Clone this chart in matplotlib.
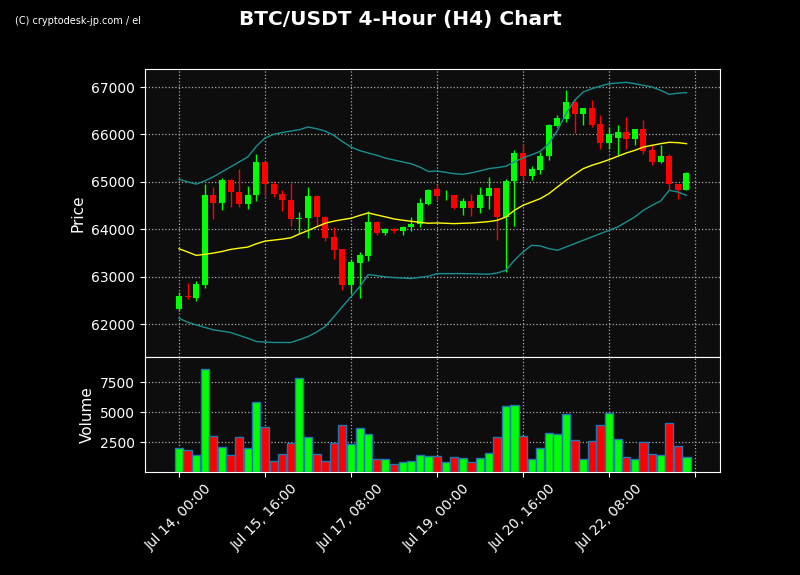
import matplotlib
matplotlib.use("Agg")
import matplotlib.pyplot as plt
import numpy as np

tick_labels = ["Jul 14, 00:00", "Jul 15, 16:00", "Jul 17, 08:00", "Jul 19, 00:00",
               "Jul 20, 16:00", "Jul 22, 08:00", ""]
opens = [62323, 62595, 62553, 62819, 64727, 64546, 65042, 64790, 64532, 64713,
         65419, 64958, 64748, 64623, 64210, 64231, 64706, 64266, 63826, 63574,
         62819, 63287, 63434, 64161, 63917, 64014, 63972, 64042, 64105, 64532,
         64842, 64715, 64715, 64448, 64589, 64448, 64701, 64863, 64258, 65010,
         65601, 65123, 65250, 65538, 66178, 66318, 66677, 66431, 66550, 66213,
         65819, 65931, 66044, 65896, 66107, 65664, 65418, 65552, 64961, 64821]
highs = [62665, 62875, 62917, 64951, 64881, 65077, 65063, 65266, 64902, 65580,
         65440, 65021, 64825, 64972, 64364, 64888, 64720, 64280, 64042, 63590,
         63364, 63511, 64378, 64182, 64035, 64020, 64077, 64252, 64657, 64840,
         64961, 64821, 64720, 64666, 64750, 64891, 65109, 64870, 65067, 65664,
         65791, 65327, 65636, 66227, 66417, 66944, 66754, 66564, 66733, 66417,
         66156, 66206, 66367, 66121, 66311, 65770, 65784, 65580, 64961, 65207]
lows = [62267, 62519, 62490, 62770, 64217, 64406, 64476, 64462, 64427, 64602,
        64706, 64678, 64378, 64070, 63917, 63819, 64077, 63742, 63378, 62707,
        62644, 62540, 63322, 63868, 63875, 63924, 63882, 63972, 64056, 64510,
        64624, 64610, 64434, 64293, 64272, 64350, 64420, 63766, 63098, 64069,
        65032, 65046, 65165, 65467, 66156, 66255, 66037, 66206, 66156, 65699,
        65699, 65559, 65699, 65784, 65580, 65348, 65397, 64835, 64645, 64821]
closes = [62588, 62560, 62840, 64727, 64546, 65042, 64776, 64532, 64727, 65419,
          64944, 64734, 64609, 64210, 64245, 64706, 64252, 63819, 63560, 62819,
          63301, 63448, 64161, 63917, 64014, 63972, 64056, 64119, 64546, 64832,
          64701, 64729, 64448, 64589, 64448, 64715, 64863, 64258, 65010, 65601,
          65123, 65264, 65552, 66192, 66339, 66677, 66431, 66550, 66192, 65819,
          66002, 66044, 65896, 66107, 65650, 65418, 65552, 64947, 64821, 65193]
volumes = [2005, 1840, 1430, 8600, 2995, 2090, 1430, 2910, 2005, 5880,
           3740, 880, 1510, 2420, 7860, 2910, 1510, 960, 2420, 3900,
           2335, 3650, 3160, 1100, 1100, 690, 850, 930, 1430, 1320,
           1350, 850, 1260, 1180, 850, 1180, 1590, 2910, 5550, 5630,
           2995, 1100, 2005, 3240, 3160, 4810, 2660, 1100, 2580, 3900,
           4890, 2750, 1260, 1100, 2500, 1510, 1430, 4070, 2170, 1260]
sma20 = [63588, 63520, 63448, 63470, 63497, 63530, 63574, 63600, 63623, 63693,
         63749, 63770, 63791, 63819, 63900, 63972, 64050, 64126, 64170, 64203,
         64231, 64290, 64343, 64301, 64260, 64217, 64190, 64168, 64145, 64126,
         64132, 64125, 64118, 64125, 64132, 64145, 64160, 64188, 64258, 64399,
         64504, 64575, 64645, 64750, 64891, 65032, 65158, 65278, 65348, 65404,
         65467, 65538, 65608, 65664, 65734, 65770, 65805, 65833, 65826, 65805]
upper = [65056, 65000, 64951, 65020, 65105, 65210, 65315, 65420, 65524, 65750,
         65924, 66000, 66040, 66070, 66100, 66156, 66120, 66070, 65980, 65850,
         65734, 65660, 65608, 65560, 65500, 65460, 65420, 65380, 65312, 65217,
         65228, 65200, 65170, 65158, 65190, 65230, 65278, 65300, 65327, 65420,
         65503, 65570, 65643, 65805, 66086, 66438, 66719, 66895, 66965, 67020,
         67070, 67085, 67098, 67070, 67035, 67000, 66930, 66845, 66870, 66880]
lower = [62120, 62040, 61980, 61930, 61876, 61850, 61820, 61760, 61700, 61630,
         61620, 61610, 61610, 61610, 61670, 61735, 61830, 61946, 62150, 62365,
         62575, 62784, 63043, 63020, 62994, 62980, 62970, 62959, 62985, 63008,
         63063, 63063, 63063, 63063, 63060, 63055, 63050, 63077, 63133, 63344,
         63520, 63661, 63647, 63591, 63556, 63626, 63696, 63766, 63837, 63907,
         63977, 64047, 64153, 64258, 64399, 64504, 64596, 64821, 64786, 64715]

x = np.arange(len(opens))
up = np.array(closes) >= np.array(opens)
cols = np.where(up, "#00ff00", "#ff0000")

fig = plt.figure(figsize=(8, 5.75), dpi=100, facecolor="black")
ax = fig.add_axes([145/800, 1-357/575, 575/800, 288/575])
axv = fig.add_axes([145/800, 1-472/575, 575/800, 115/575], sharex=ax)
for a in (ax, axv):
    a.set_facecolor("#0d0d0d")
    a.grid(True, color="#aaaaaa", linestyle=":", linewidth=0.9)
    a.set_axisbelow(True)
    a.tick_params(colors="white", labelsize=10)
    for s in a.spines.values():
        s.set_color("white")

ax.vlines(x, lows, highs, colors=cols, linewidth=1, zorder=2)
body_b = np.minimum(opens, closes)
body_h = np.maximum(np.abs(np.array(closes) - np.array(opens)), 15)
ax.bar(x, body_h, bottom=body_b, width=0.7, color=cols, zorder=3)
ax.plot(x, sma20, color="#ffff00", linewidth=1, zorder=4)
ax.plot(x, upper, color="#1a8f8f", linewidth=1, zorder=4)
ax.plot(x, lower, color="#1a8f8f", linewidth=1, zorder=4)
ax.set_ylim(61304, 67380)
ax.set_yticks([62000, 63000, 64000, 65000, 66000, 67000])
ax.set_ylabel("Price", color="white", fontsize=11)
plt.setp(ax.get_xticklabels(), visible=False)
ax.tick_params(axis="x", length=0)

axv.bar(x, volumes, width=0.95, color=cols, edgecolor="#1f77b4", linewidth=1, zorder=3)
axv.set_ylim(0, 9600)
axv.set_yticks([2500, 5000, 7500])
axv.set_ylabel("Volume", color="white", fontsize=11)
axv.set_xlim(-3.95, 62.9)
axv.set_xticks(np.arange(0, 61, 10))
axv.set_xticklabels(tick_labels, rotation=45, ha="center")

fig.text(0.5, 0.982, "BTC/USDT 4-Hour (H4) Chart", color="white", fontsize=14.5,
         fontweight="bold", ha="center", va="top")
fig.text(15/800, 1-21/575, "(C) cryptodesk-jp.com / el", color="white", fontsize=7, va="center")
fig.savefig("out.png", dpi=100, facecolor="black")
